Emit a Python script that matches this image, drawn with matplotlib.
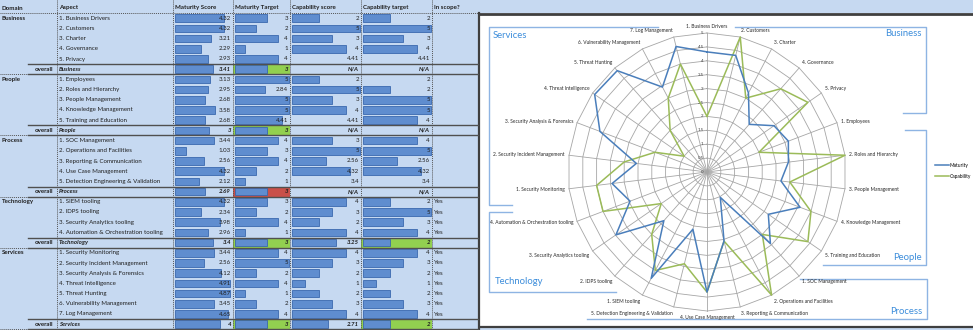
import matplotlib
matplotlib.use('Agg')
import matplotlib.pyplot as plt
from matplotlib.patches import Rectangle
from matplotlib.lines import Line2D
import numpy as np

plt.rcParams['font.family'] = ['Lato', 'DejaVu Sans']

# ---------------- data ----------------
domains = ['Business', 'People', 'Process', 'Technology', 'Services']
domain_sizes = [5, 5, 5, 4, 7]
aspect_labels = [
    '1. Business Drivers', '2. Customers', '3. Charter', '4. Governance', '5. Privacy',
    '1. Employees', '2. Roles and Hierarchy', '3. People Management', '4. Knowledge Management', '5. Training and Education',
    '1. SOC Management', '2. Operations and Facilities', '3. Reporting & Communication', '4. Use Case Management',
    '5. Detection Engineering & Validation',
    '1. SIEM tooling', '2. IDPS tooling', '3. Security Analytics tooling', '4. Automation & Orchestration tooling',
    '1. Security Monitoring', '2. Security Incident Management', '3. Security Analysis & Forensics',
    '4. Threat Intelligence', '5. Threat Hunting', '6. Vulnerability Management', '7. Log Management',
]
maturity_score = [4.32, 4.32, 3.21, 2.29, 2.93,
                  3.13, 2.95, 2.68, 3.58, 2.68,
                  3.44, 1.03, 2.56, 4.32, 2.12,
                  4.32, 2.34, 3.98, 2.96,
                  3.44, 2.56, 4.12, 4.91, 4.87, 3.45, 4.65]
maturity_target = [3, 2, 4, 1, 4,
                   5, 2.84, 5, 5, 4.41,
                   4, 3, 4, 2, 1,
                   3, 2, 4, 1,
                   4, 5, 2, 4, 1, 2, 4]
# strings = text cells (no data bar)
capability_score = [2, 5, 3, 4, '4.41',
                    2, 5, 3, 4, '4.41',
                    3, 5, 2.56, 4.32, '3.4',
                    4, 3, 2, 4,
                    4, 3, 2, 1, 2, 3, 4]
capability_target = [2, 5, 3, 4, '4.41',
                     '2', 2, 5, 5, 4,
                     4, 5, 2.56, 4.32, '3.4',
                     2, 5, 3, 4,
                     4, 3, 2, 1, 2, 3, 4]
in_scope = [''] * 15 + ['Yes'] * 11

overall_maturity = [3.41, 3, 2.69, 3.4, 4]
overall_target = [3, 3, 3, 3, 3]
overall_cap_score = ['N/A', 'N/A', 'N/A', 3.25, 2.71]
overall_cap_target = ['N/A', 'N/A', 'N/A', 2, 2]

headers = ['Domain', 'Aspect', 'Maturity Score', 'Maturity Target', 'Capability score', 'Capability target', 'In scope?']

# ---------------- style ----------------
BG = '#C6D9F1'
BAR_FC = '#5F8DCF'
BAR_EC = '#3A68AE'
GREEN = '#92D050'
RED = '#C9504A'
BOX = '#8EB4E3'
BOXTXT = '#3C8DDB'
BLUE = '#4A7EBB'
LGREEN = '#9BBB59'
FS = 4.4

W, H = 973, 330
fig = plt.figure(figsize=(W / 100, H / 100), dpi=100)
ax = fig.add_axes([0, 0, 1, 1])
ax.set_xlim(0, W)
ax.set_ylim(H, 0)
ax.axis('off')

cols = [0, 57, 173, 233, 290, 361, 432, 478]
row_h = 10.2
c0 = 8.0


def rc(i):
    return c0 + row_h * i


def fmt(v):
    if isinstance(v, str):
        return v
    return '{:g}'.format(v)


# backgrounds
ax.add_patch(Rectangle((0, 0), 478, H, fc=BG, ec='none', zorder=0))
ax.add_patch(Rectangle((478, 0), W - 478, 13, fc=BG, ec='none', zorder=0))
ax.add_patch(Rectangle((478, 327), W - 478, 3, fc=BG, ec='none', zorder=0))
ax.add_patch(Rectangle((479, 14), W - 479, 313, fc='white', ec='none', zorder=0))
ax.plot([478, W], [13.5, 13.5], color='#3F3F3F', lw=2, zorder=5, solid_capstyle='butt')
ax.plot([478, W], [327, 327], color='#3F3F3F', lw=1.6, zorder=5, solid_capstyle='butt')
ax.plot([478.5, 478.5], [13, H], color='#3F3F3F', lw=1.6, zorder=5)

# header
for j, h in enumerate(headers):
    ax.text(cols[j] + 2, rc(0), h, fontsize=FS, fontweight='bold', va='center', ha='left', color='#1F1F1F')
ax.plot([0, 478], [13.1, 13.1], color='#555555', lw=0.7, ls=(0, (1, 1)), zorder=3)
for x in cols[1:-1]:
    ax.plot([x, x], [0, H], color='#555555', lw=0.7, ls=(0, (1, 1)), zorder=3)


def draw_bar(col, row, v, bold=False):
    x0, x1 = cols[col], cols[col + 1]
    y = rc(row)
    if not isinstance(v, str):
        maxw = (x1 - x0) - 3
        ax.barh(y, v / 5 * maxw, left=x0 + 1.5, height=7.6, color=BAR_FC, edgecolor=BAR_EC, lw=0.6, zorder=2)
    kw = dict(fontweight='bold', style='italic') if bold else {}
    ax.text(x1 - 2, y, fmt(v), fontsize=FS, ha='right', va='center', color='#1F1F1F', zorder=4, **kw)


row = 1
k = 0
for d, n in enumerate(domain_sizes):
    ax.text(2, rc(row), domains[d], fontsize=FS, fontweight='bold', va='center', ha='left', color='#1F1F1F')
    for a in range(n):
        ax.text(cols[1] + 2, rc(row), aspect_labels[k], fontsize=FS, va='center', ha='left', color='#1F1F1F')
        draw_bar(2, row, maturity_score[k])
        draw_bar(3, row, maturity_target[k])
        draw_bar(4, row, capability_score[k])
        draw_bar(5, row, capability_target[k])
        if in_scope[k]:
            ax.text(cols[6] + 2, rc(row), in_scope[k], fontsize=FS, va='center', ha='left', color='#1F1F1F')
        row += 1
        k += 1
    # overall row
    y = rc(row)
    ax.text(53, y, 'overall', fontsize=FS, fontweight='bold', ha='right', va='center', color='#1F1F1F')
    ax.text(cols[1] + 2, y, domains[d], fontsize=FS, fontweight='bold', style='italic', ha='left', va='center',
            color='#1F1F1F')
    tcol = GREEN if overall_maturity[d] >= overall_target[d] else RED
    ax.add_patch(Rectangle((cols[3], y - row_h / 2), cols[4] - cols[3], row_h, fc=tcol, ec='none', zorder=1))
    if not isinstance(overall_cap_target[d], str):
        ax.add_patch(Rectangle((cols[5], y - row_h / 2), cols[6] - cols[5], row_h, fc=GREEN, ec='none', zorder=1))
    draw_bar(2, row, overall_maturity[d], bold=True)
    draw_bar(3, row, overall_target[d], bold=True)
    draw_bar(4, row, overall_cap_score[d], bold=True)
    draw_bar(5, row, overall_cap_target[d], bold=True)
    top, bot = y - row_h / 2, y + row_h / 2
    ax.plot([28, 478], [top, top], color='#505050', lw=1.0, zorder=5)
    ax.plot([28, 478], [bot, bot], color='#505050', lw=1.0, zorder=5)
    ax.plot([0, 28], [bot, bot], color='#555555', lw=0.7, ls=(0, (1, 1)), zorder=5)
    row += 1

# ---------------- domain boxes ----------------
boxes = [
    ([658, 489, 489, 512], [27, 27, 205, 205]),
    ([512, 489, 489, 616], [212, 212, 292, 292]),
    ([735, 926, 926, 903], [27, 27, 113, 113]),
    ([905, 926, 926, 823], [130, 130, 265, 265]),
    ([800, 927, 927, 587], [279, 279, 319, 319]),
]
for xs, ys in boxes:
    ax.plot(xs, ys, color=BOX, lw=1.0, zorder=1)
ax.text(493, 35, 'Services', fontsize=6.8, color=BOXTXT, ha='left', va='center')
ax.text(495, 282, 'Technology', fontsize=6.8, color=BOXTXT, ha='left', va='center')
ax.text(922, 34, 'Business', fontsize=6.8, color=BOXTXT, ha='right', va='center')
ax.text(922, 257, 'People', fontsize=6.8, color=BOXTXT, ha='right', va='center')
ax.text(922, 311, 'Process', fontsize=6.8, color=BOXTXT, ha='right', va='center')

# ---------------- radar ----------------
cx, cy, R = 707, 172, 139
half = 165
rax = fig.add_axes([(cx - half) / W, (H - (cy + half)) / H, 2 * half / W, 2 * half / H])
lim = half / R * 5
rax.set_xlim(-lim, lim)
rax.set_ylim(-lim, lim)
rax.axis('off')
rax.patch.set_alpha(0)

N = len(aspect_labels)
theta = 2 * np.pi * np.arange(N) / N
sx, sy = np.sin(theta), np.cos(theta)
levels = np.arange(0.5, 5.01, 0.5)
for r in levels:
    rax.plot(np.append(r * sx, r * sx[0]), np.append(r * sy, r * sy[0]), color='#A6A6A6', lw=0.6, zorder=1)
for i in range(N):
    rax.plot([0, 5 * sx[i]], [0, 5 * sy[i]], color='#A6A6A6', lw=0.6, zorder=1)
for r in np.arange(0, 5.01, 0.5):
    rax.text(-0.12, r, '{:g}'.format(r), fontsize=3.2, ha='right', va='center', color='#404040', zorder=3)

mat = np.array(maturity_score, dtype=float)
cap = np.array([float(v) for v in capability_score])
rax.plot(np.append(mat * sx, mat[0] * sx[0]), np.append(mat * sy, mat[0] * sy[0]), color=BLUE, lw=1.1, zorder=4)
rax.plot(np.append(cap * sx, cap[0] * sx[0]), np.append(cap * sy, cap[0] * sy[0]), color=LGREEN, lw=1.1, zorder=3)

for i, lab in enumerate(aspect_labels):
    s, c = sx[i], sy[i]
    ha = 'left' if s > 0.05 else ('right' if s < -0.05 else 'center')
    va = 'bottom' if c > 0.5 else ('top' if c < -0.5 else 'center')
    rr = 5.15
    rax.text(rr * s, rr * c, lab, fontsize=3.5, ha=ha, va=va, color='#262626', zorder=5, clip_on=False)

handles = [Line2D([], [], color=BLUE, lw=1.1), Line2D([], [], color=LGREEN, lw=1.1)]
fig.legend(handles, ['Maturity', 'Capability'], loc='center left', bbox_to_anchor=(933 / W, 1 - 171 / H),
           fontsize=3.5, frameon=False, handlelength=2.8, handletextpad=0.2, labelspacing=1.2, borderaxespad=0)

fig.savefig('out.png', dpi=100)
